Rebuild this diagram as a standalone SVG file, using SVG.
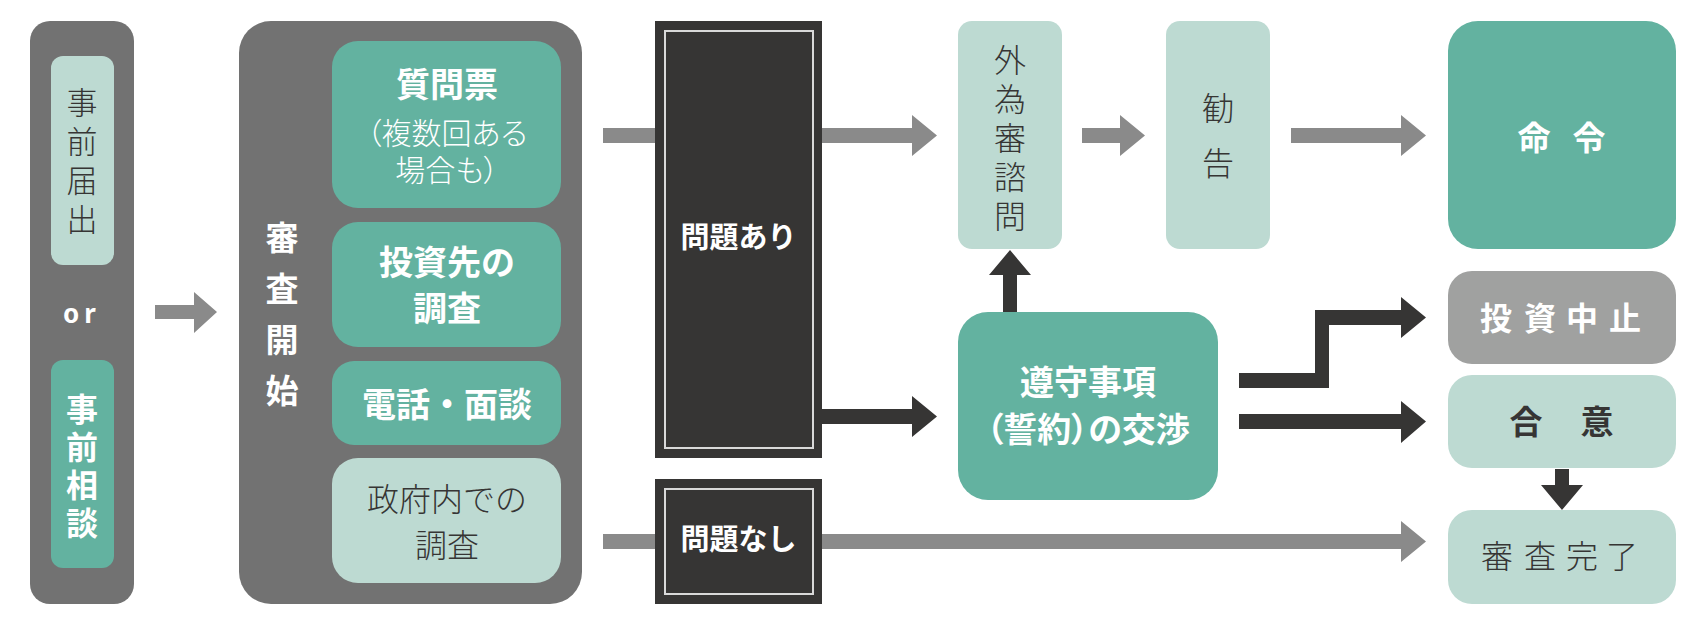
<svg xmlns="http://www.w3.org/2000/svg" width="1700" height="630" viewBox="0 0 1700 630">
<defs>
<style>
text{font-family:"Noto Sans CJK JP","Noto Sans",sans-serif;text-anchor:middle}
.v{writing-mode:vertical-rl}
.p{font-feature-settings:"palt" 1}
.b{font-weight:700;fill:#ffffff}
.bd{font-weight:700;fill:#363534}
.l{font-weight:300;fill:#363534}
.lw{font-weight:300;fill:#ffffff}
.gbox{fill:#727272}
.lg{fill:#bddad2}
.mg{fill:#63b2a0}
.dk{fill:#363534}
.frame{fill:none;stroke:#d9d9d9;stroke-width:2}
.ga{fill:#8a8a8a}
.da{fill:#363534}
</style>
</defs>
<rect width="1700" height="630" fill="#ffffff"/>
<g id="connectors">
<polygon class="ga" points="155,305 194,305 194,292 217,312 194,333 194,319 155,319"/>
<polygon class="ga" points="603,128 912,128 912,115 937,135.5 912,156 912,143 603,143"/>
<polygon class="ga" points="603,534 1401,534 1401,521 1426,541.5 1401,562 1401,549 603,549"/>
<polygon class="da" points="822,409 912,409 912,396 937,416.5 912,437 912,424 822,424"/>
<polygon class="ga" points="1082,128 1120,128 1120,115 1145,135.5 1120,156 1120,143 1082,143"/>
<polygon class="ga" points="1291,128 1401,128 1401,115 1426,135.5 1401,156 1401,143 1291,143"/>
<polygon class="da" points="1003,312 1003,275 989,275 1010,250 1031,275 1017,275 1017,312"/>
<polygon class="da" points="1239,373 1315,373 1315,310 1401,310 1401,297 1426,317.5 1401,338 1401,325 1329,325 1329,388 1239,388"/>
<polygon class="da" points="1239,414 1401,414 1401,401 1426,421.5 1401,443 1401,429 1239,429"/>
<polygon class="da" points="1555,469 1569,469 1569,485 1583,485 1562,510 1541,485 1555,485"/>
</g>
<g id="entry">
<rect class="gbox" x="30" y="21" width="104" height="583" rx="20"/>
<text class="b" x="82" y="323" style="font-family:'Noto Sans',sans-serif;font-size:26px;letter-spacing:5px">or</text>
</g>
<g id="jizen-todokede">
<rect class="lg" x="51" y="56" width="63" height="209" rx="12"/>
<text class="l v" style="font-size:31px;letter-spacing:8px" x="82" y="164.5">事前届出</text>
</g>
<g id="jizen-soudan">
<rect class="mg" x="51" y="360" width="63" height="208" rx="12"/>
<text class="b v" style="font-size:32px;letter-spacing:6px" x="82" y="468.5">事前相談</text>
</g>
<g id="shinsa-kaishi">
<rect class="gbox" x="239" y="21" width="343" height="583" rx="32"/>
<text class="b v" style="font-size:33px;letter-spacing:18px" x="282" y="322.5">審査開始</text>
</g>
<g id="shitsumonhyo">
<rect class="mg" x="332" y="41" width="229" height="167" rx="26"/>
<text class="b" style="font-size:34px" x="447" y="97">質問票</text>
<text class="lw p" style="font-size:30px"><tspan x="447" y="144">（複数回ある</tspan><tspan x="447" y="181">場合も）</tspan></text>
</g>
<g id="toshisaki">
<rect class="mg" x="332" y="222" width="229" height="125" rx="26"/>
<text class="b" style="font-size:34px"><tspan x="447" y="275">投資先の</tspan><tspan x="447" y="321">調査</tspan></text>
</g>
<g id="denwa">
<rect class="mg" x="332" y="361" width="229" height="84" rx="22"/>
<text class="b" style="font-size:34px" x="447" y="417">電話・面談</text>
</g>
<g id="seifunai">
<rect class="lg" x="332" y="458" width="229" height="125" rx="26"/>
<text class="l" style="font-size:32px"><tspan x="447" y="511">政府内での</tspan><tspan x="447" y="557">調査</tspan></text>
</g>
<g id="mondai-ari">
<rect class="dk" x="655" y="21" width="167" height="437"/>
<rect class="frame" x="665" y="31" width="148" height="417"/>
<text class="b" style="font-size:29px" x="738.5" y="248">問題あり</text>
</g>
<g id="mondai-nashi">
<rect class="dk" x="655" y="479" width="167" height="125"/>
<rect class="frame" x="665" y="489" width="148" height="105"/>
<text class="b" style="font-size:29px" x="738.5" y="550">問題なし</text>
</g>
<g id="gaitameshingi">
<rect class="lg" x="958" y="21" width="104" height="228" rx="14"/>
<text class="l v" style="font-size:32px;letter-spacing:7px" x="1010" y="141">外為審諮問</text>
</g>
<g id="kankoku">
<rect class="lg" x="1166" y="21" width="104" height="228" rx="14"/>
<text class="l v" style="font-size:32px;letter-spacing:23px" x="1218" y="147">勧告</text>
</g>
<g id="meirei">
<rect class="mg" x="1448" y="21" width="228" height="228" rx="30"/>
<text class="b" style="font-size:33px" x="1534 1589" y="150">命令</text>
</g>
<g id="junshu">
<rect class="mg" x="958" y="312" width="260" height="188" rx="30"/>
<text class="b p" style="font-size:34px"><tspan x="1088" y="395">遵守事項</tspan><tspan x="1088" y="442">（誓約）の交渉</tspan></text>
</g>
<g id="toshi-chushi">
<rect x="1448" y="271" width="228" height="93" rx="24" fill="#a0a1a0"/>
<text class="b" style="font-size:32px" x="1496 1540 1582 1625" y="330">投資中止</text>
</g>
<g id="goi">
<rect class="lg" x="1448" y="375" width="228" height="93" rx="24"/>
<text class="bd" style="font-size:33px" x="1526 1597" y="434">合意</text>
</g>
<g id="shinsa-kanryo">
<rect class="lg" x="1448" y="510" width="228" height="94" rx="24"/>
<text class="l" style="font-size:32px" x="1497 1540 1582 1622" y="568">審査完了</text>
</g>
</svg>
